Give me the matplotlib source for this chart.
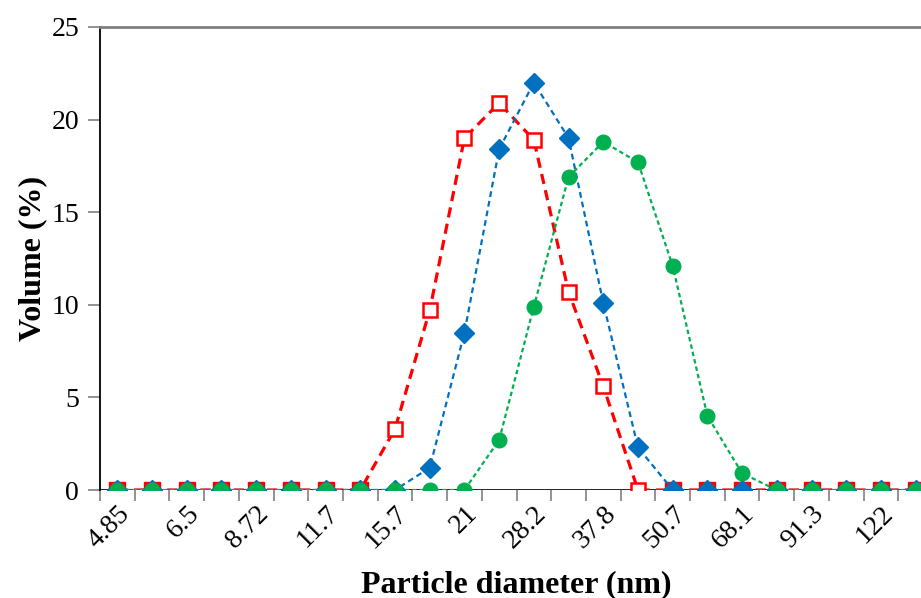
import matplotlib
matplotlib.use('Agg')
import matplotlib.pyplot as plt
import numpy as np

# particle size classes (nm), every other one is labelled on the axis
diameters = ['4.85', '5.61', '6.5', '7.53', '8.72', '10.1', '11.7', '13.5',
             '15.7', '18.2', '21', '24.4', '28.2', '32.7', '37.8', '43.8',
             '50.7', '58.8', '68.1', '78.8', '91.3', '106', '122', '142']

vol_red = [0, 0, 0, 0, 0, 0, 0, 0, 3.3, 9.7, 19.0, 20.9, 18.9, 10.7, 5.6, 0,
           0, 0, 0, 0, 0, 0, 0, 0]
vol_blue = [0, 0, 0, 0, 0, 0, 0, 0, 0, 1.2, 8.5, 18.4, 22.0, 19.0, 10.1, 2.3,
            0, 0, 0, 0, 0, 0, 0, 0]
vol_green = [0, 0, 0, 0, 0, 0, 0, 0, 0, 0, 0, 2.7, 9.9, 16.9, 18.8, 17.7,
             12.1, 4.0, 0.9, 0, 0, 0, 0, 0]

plt.rcParams['font.family'] = ['Liberation Serif', 'DejaVu Serif']

fig = plt.figure(figsize=(9.21, 5.98), dpi=100)
ax = fig.add_axes([100 / 921, 108 / 598, 833 / 921, 463 / 598])

x = np.arange(len(diameters))
red = np.array(vol_red)
blue = np.array(vol_blue)

ax.axhline(0, color='black', lw=1.2, zorder=1)

# red series: open squares, thick long dashes
ax.plot(x, vol_red, color='#FF0000', lw=2.3, dashes=(3.2, 2.0),
        marker='s', markersize=10, markerfacecolor='white',
        markeredgecolor='#FF0000', markeredgewidth=1.8, zorder=3)
both_zero = (red == 0) & (blue == 0)
ax.plot(x[both_zero], red[both_zero], linestyle='none', marker='s',
        markersize=12, color='#FF0000', zorder=3)

# blue series: filled diamonds, fine dashes
ax.plot(x, vol_blue, color='#0070C0', lw=1.6, dashes=(2.6, 1.8),
        marker='D', markersize=10, markerfacecolor='#0070C0',
        markeredgecolor='#0070C0', zorder=4)

# green series: filled circles, short dashes
ax.plot(x, vol_green, color='#00B050', lw=1.6, dashes=(2.0, 1.4),
        marker='o', markersize=10.5, markerfacecolor='#00B050',
        markeredgecolor='#00B050', zorder=5)

ax.set_xlim(-0.5, len(diameters) - 0.5)
ax.set_ylim(0, 25)
ax.set_yticks([0, 5, 10, 15, 20, 25])

ax.set_xticks(x[::2])
ax.set_xticklabels(diameters[::2], rotation=45, ha='right',
                   rotation_mode='anchor')
ax.set_xticks(np.arange(-0.5, len(diameters), 1), minor=True)
ax.tick_params(axis='x', which='major', length=0, labelsize=20, pad=8)
ax.tick_params(axis='x', which='minor', length=8, width=1.2,
               color='#808080', direction='out')
ax.tick_params(axis='y', length=9, width=1.2, color='#808080',
               direction='out', labelsize=20, pad=6)

ax.spines['left'].set_color('black')
ax.spines['left'].set_linewidth(1.3)
ax.spines['top'].set_color('#808080')
ax.spines['top'].set_linewidth(2.0)
ax.spines['bottom'].set_visible(False)
ax.spines['right'].set_visible(False)

ax.set_xlabel('Particle diameter (nm)', fontsize=23, fontweight='bold',
              labelpad=12)
ax.set_ylabel('Volume (%)', fontsize=23, fontweight='bold', labelpad=3)

plt.savefig('out.png', dpi=100)
plt.close()
